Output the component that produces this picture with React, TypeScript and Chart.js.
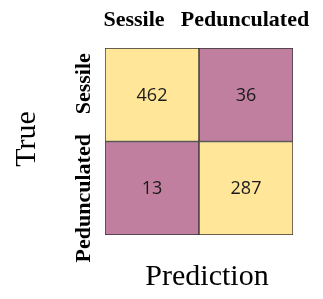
import React, { useEffect, useRef } from "react";
import { Chart, registerables } from "chart.js";

Chart.register(...registerables);

const predictedLabels = ["Sessile", "Pedunculated"];
const trueLabels = ["Sessile", "Pedunculated"];
const sessileRow = [462, 36];
const pedunculatedRow = [13, 287];
const xTitle = "Prediction";
const yTitle = "True";

const HIGH = "#FFE699";
const LOW = "#C07F9E";

const colorFor = (v: number) => (v >= 100 ? HIGH : LOW);

const labelPlugin = {
  id: "cmLabels",
  afterDatasetsDraw(chart: any) {
    const ctx = chart.ctx;
    const xs = chart.scales.x;
    const ys = chart.scales.y;
    ctx.save();
    // cell values
    ctx.fillStyle = "#1a1a1a";
    ctx.font = "18px 'Open Sans', sans-serif";
    ctx.textAlign = "center";
    ctx.textBaseline = "middle";
    chart.data.datasets.forEach((ds: any, di: number) => {
      const meta = chart.getDatasetMeta(di);
      meta.data.forEach((el: any, i: number) => {
        const p = el.getProps(["x", "y", "base"], true);
        ctx.fillText(String(ds.values[i]), p.x, (p.y + p.base) / 2 + 1);
      });
    });
    // column labels
    ctx.fillStyle = "#000";
    ctx.font = "bold 22px 'Liberation Serif', serif";
    const colOff = [-18, -1];
    predictedLabels.forEach((l, i) => {
      ctx.fillText(l, xs.getPixelForValue(i) + colOff[i], 20);
    });
    // row labels (rotated)
    const rowCenters = [1.5, 0.5];
    const rowOff = [-11, 10];
    trueLabels.forEach((l, i) => {
      ctx.save();
      ctx.translate(84, ys.getPixelForValue(rowCenters[i]) + rowOff[i]);
      ctx.rotate(-Math.PI / 2);
      ctx.fillText(l, 0, 0);
      ctx.restore();
    });
    // axis titles
    ctx.font = "30px 'Liberation Serif', serif";
    ctx.fillText(xTitle, 207, 277);
    ctx.save();
    ctx.translate(27, 139);
    ctx.rotate(-Math.PI / 2);
    ctx.fillText(yTitle, 0, 0);
    ctx.restore();
    ctx.restore();
  },
};

export default function App() {
  const ref = useRef<HTMLCanvasElement>(null);
  useEffect(() => {
    if (!ref.current) return;
    const chart = new Chart(ref.current, {
      type: "bar",
      data: {
        labels: predictedLabels,
        datasets: [
          {
            label: trueLabels[0],
            data: sessileRow.map(() => [1, 2]) as any,
            values: sessileRow,
            backgroundColor: sessileRow.map(colorFor),
            borderColor: "#333333",
            borderWidth: 1,
            borderSkipped: false,
          } as any,
          {
            label: trueLabels[1],
            data: pedunculatedRow.map(() => [0, 1]) as any,
            values: pedunculatedRow,
            backgroundColor: pedunculatedRow.map(colorFor),
            borderColor: "#333333",
            borderWidth: 1,
            borderSkipped: false,
          } as any,
        ],
      },
      options: {
        animation: false,
        responsive: false,
        maintainAspectRatio: false,
        layout: { padding: { left: 105, right: 30, top: 48, bottom: 64 } },
        datasets: { bar: { barPercentage: 1, categoryPercentage: 1, grouped: false } },
        plugins: { legend: { display: false }, tooltip: { enabled: false } },
        scales: {
          x: { display: false, offset: true },
          y: { display: false, min: 0, max: 2 },
        },
      } as any,
      plugins: [labelPlugin],
    });
    return () => chart.destroy();
  }, []);
  return (
    <div style={{ position: "absolute", left: 0, top: 0, width: 323, height: 299, background: "#fff" }}>
      <canvas ref={ref} width={323} height={299} style={{ width: 323, height: 299 }} />
    </div>
  );
}
